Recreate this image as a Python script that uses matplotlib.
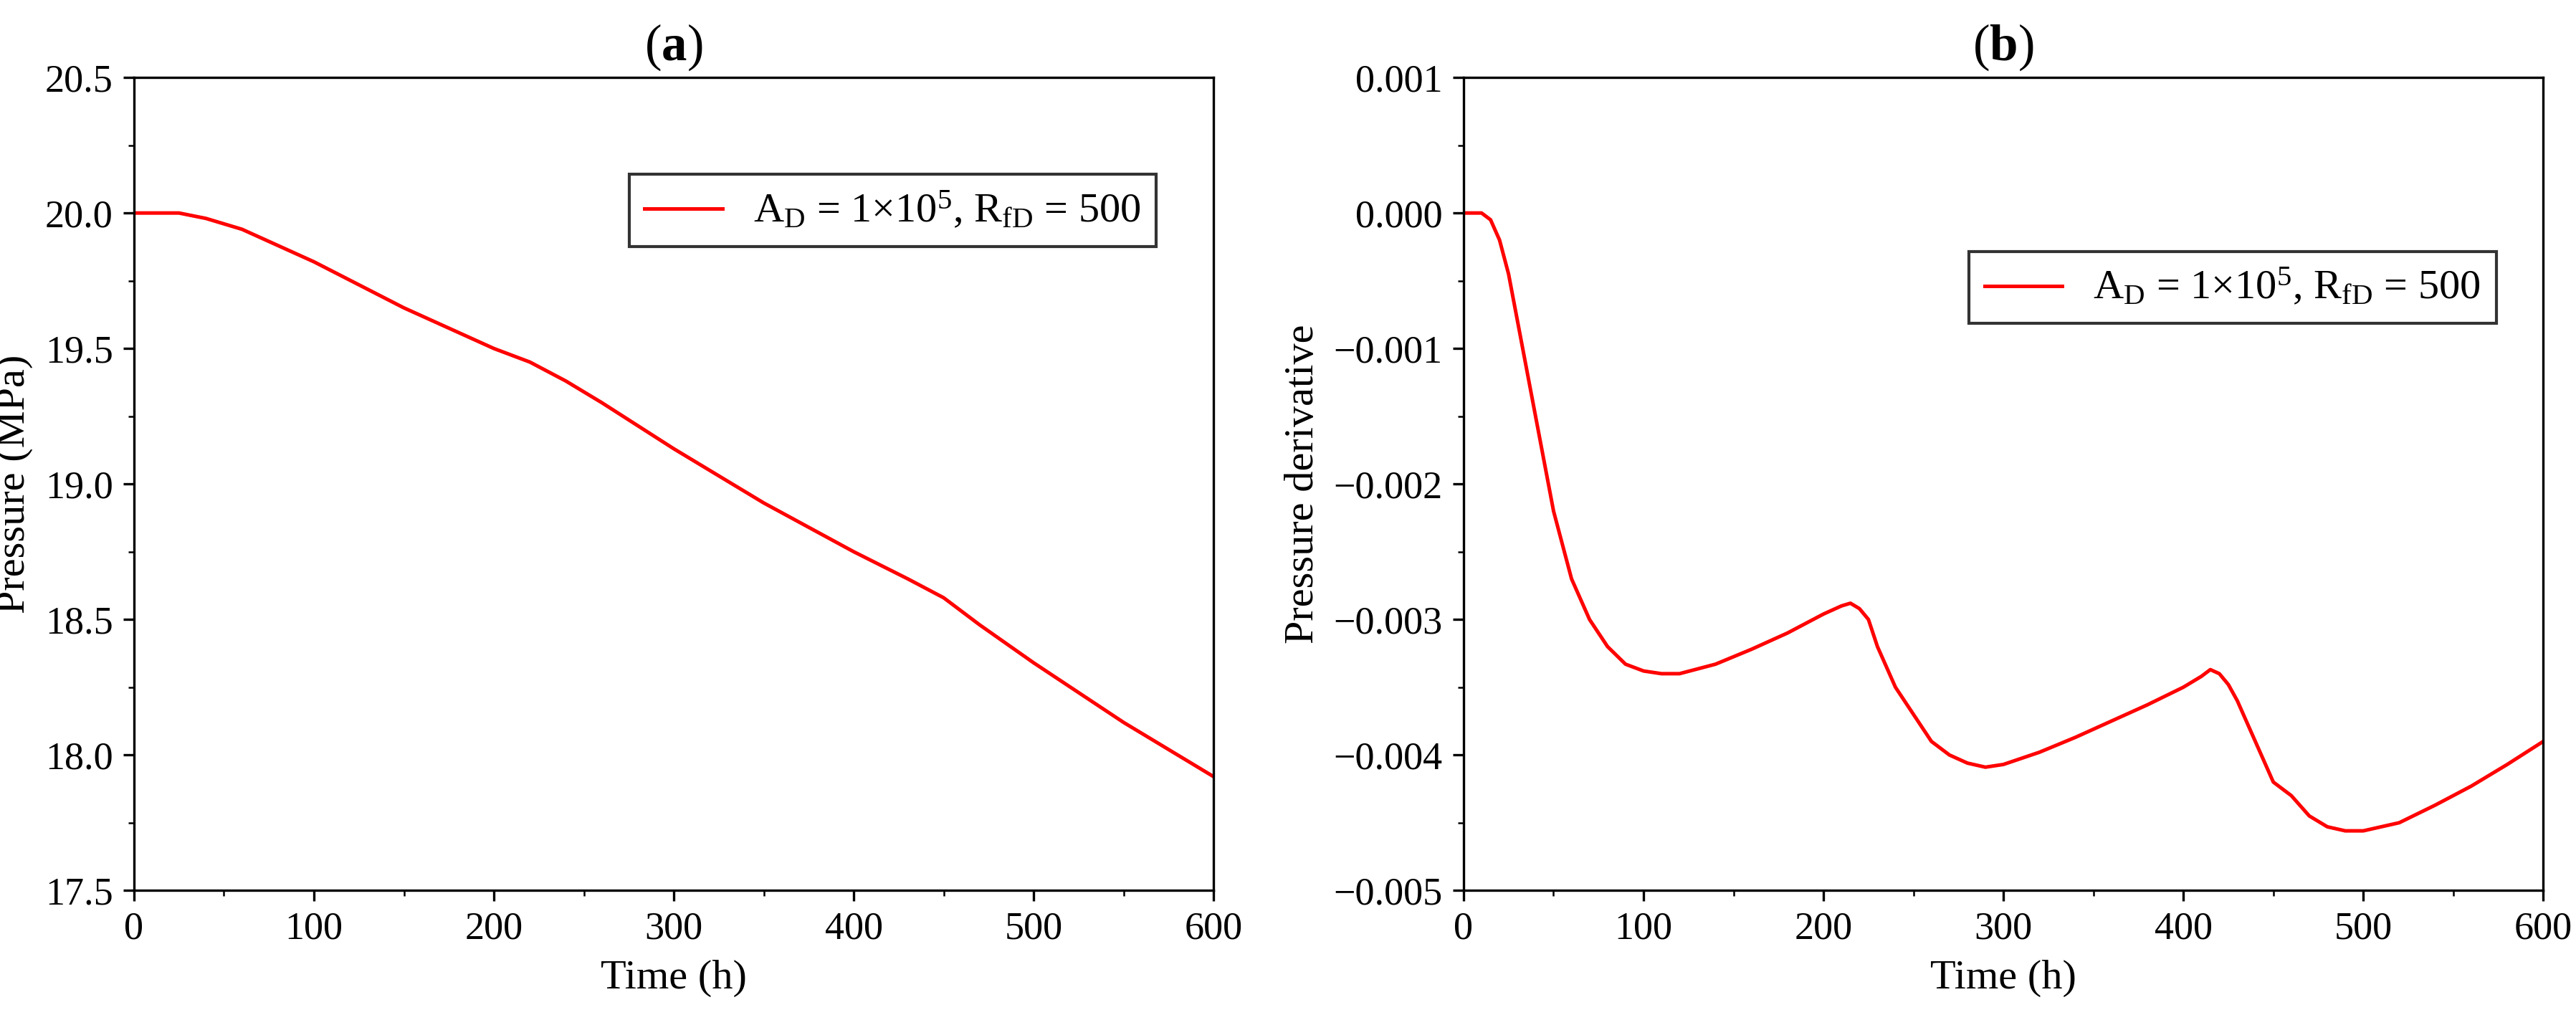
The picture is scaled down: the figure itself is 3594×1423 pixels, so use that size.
import matplotlib
import matplotlib.pyplot as plt
import numpy as np

matplotlib.rcParams['font.family'] = 'Liberation Serif'
matplotlib.rcParams['mathtext.fontset'] = 'custom'
matplotlib.rcParams['mathtext.rm'] = 'Liberation Serif'
matplotlib.rcParams['mathtext.it'] = 'Liberation Serif:italic'
matplotlib.rcParams['mathtext.bf'] = 'Liberation Serif:bold'
matplotlib.rcParams['font.size'] = 13

# panel (a): pressure
t_a = [0, 25, 40, 60, 80, 100, 150, 200, 220, 240, 260, 300, 350, 400, 430,
       450, 470, 500, 550, 600]
p_a = [20.0, 20.0, 19.98, 19.94, 19.88, 19.82, 19.65, 19.5, 19.45, 19.38,
       19.3, 19.13, 18.93, 18.75, 18.65, 18.58, 18.48, 18.34, 18.12, 17.92]

# panel (b): pressure derivative
t_b = [0, 10, 15, 20, 25, 30, 40, 50, 60, 70, 80, 90, 100, 110, 120, 140,
       160, 180, 200, 210, 215, 220, 225, 230, 240, 250, 260, 270, 280, 290,
       300, 320, 340, 360, 380, 400, 410, 415, 420, 425, 430, 440, 450, 460,
       470, 480, 490, 500, 520, 540, 560, 580, 600]
d_b = [0, 0, -0.00005, -0.0002, -0.00045, -0.0008, -0.0015, -0.0022, -0.0027,
       -0.003, -0.0032, -0.00333, -0.00338, -0.0034, -0.0034, -0.00333,
       -0.00322, -0.0031, -0.00296, -0.0029, -0.00288, -0.00292, -0.003,
       -0.0032, -0.0035, -0.0037, -0.0039, -0.004, -0.00406, -0.00409,
       -0.00407, -0.00398, -0.00387, -0.00375, -0.00363, -0.0035, -0.00342,
       -0.00337, -0.0034, -0.00348, -0.0036, -0.0039, -0.0042, -0.0043,
       -0.00445, -0.00453, -0.00456, -0.00456, -0.0045, -0.00437, -0.00423,
       -0.00407, -0.0039]

label = r'A$_\mathrm{D}$ = 1×10$^5$, R$_\mathrm{fD}$ = 500'

fig = plt.figure(figsize=(3595 / 300, 1423 / 300), dpi=300)
ax1 = fig.add_axes([0.052, 0.127, 0.419, 0.797])
ax2 = fig.add_axes([0.568, 0.127, 0.419, 0.797])

ax1.plot(t_a, p_a, color='red', lw=1.2, label=label)
ax1.set_ylim(17.5, 20.5)
ax1.set_yticks(np.arange(17.5, 20.51, 0.5))
ax1.set_ylabel('Pressure (MPa)', fontsize=14)
ax1.set_title(r'($\mathbf{a}$)', fontsize=17)
ax1.legend(loc='upper right', bbox_to_anchor=(0.965, 0.905))

ax2.plot(t_b, d_b, color='red', lw=1.2, label=label)
ax2.set_ylim(-0.005, 0.001)
ax2.set_yticks(np.arange(-0.005, 0.00101, 0.001))
ax2.yaxis.set_major_formatter(matplotlib.ticker.FuncFormatter(
    lambda v, p: ('%.3f' % v).replace('-', '\u2212') if abs(v) > 1e-9 else '0.000'))
ax2.set_ylabel('Pressure derivative', fontsize=14)
ax2.set_title(r'($\mathbf{b}$)', fontsize=17)
ax2.legend(loc='upper left', bbox_to_anchor=(0.45, 0.81))

for ax in (ax1, ax2):
    ax.set_xlim(0, 600)
    ax.set_xticks(range(0, 601, 100))
    ax.set_xlabel('Time (h)', fontsize=14)
    ax.xaxis.set_minor_locator(matplotlib.ticker.MultipleLocator(50))
    ax.yaxis.set_minor_locator(matplotlib.ticker.AutoMinorLocator(2))
    ax.tick_params(direction='out', which='both')
    leg = ax.get_legend()
    leg.get_frame().set_edgecolor('black')
    leg.get_frame().set_boxstyle('square', pad=0)
    leg.get_frame().set_linewidth(1.0)
    for t in leg.get_texts():
        t.set_fontsize(14)

fig.savefig('out.png', dpi=300)
